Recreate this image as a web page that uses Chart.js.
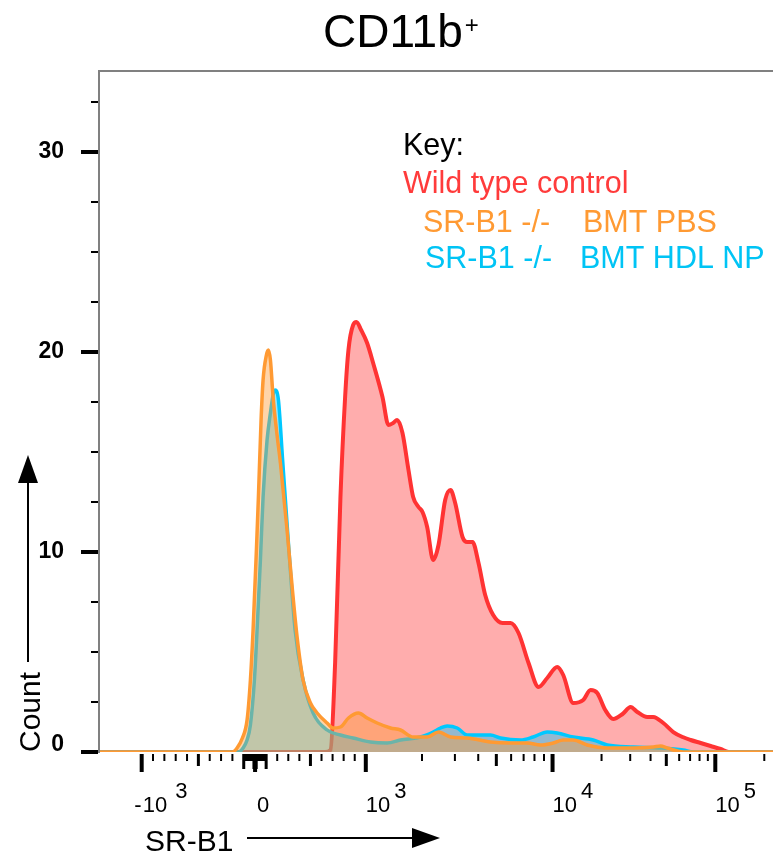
<!DOCTYPE html>
<html>
<head>
<meta charset="utf-8">
<script src="https://cdn.jsdelivr.net/npm/chart.js@4.4.1/dist/chart.umd.min.js"></script>
<style>
  html, body { margin: 0; padding: 0; background: #fff; overflow: hidden; }
  #wrap { position: relative; width: 782px; height: 853px; }
</style>
</head>
<body>
<div id="wrap"><canvas id="histo"></canvas></div>
<script>
// SR-B1 histograms on CD11b+ cells; x in display channels (0-1024), y in counts
const wtChannel = [0, 339, 347, 354, 362, 369, 374, 381, 386, 393, 402, 411, 425, 434, 441, 447, 455, 464, 471, 479,
  485, 492, 501, 509, 519, 527, 534, 545, 552, 560, 569, 579, 591, 605, 617, 629, 644, 659, 672, 687,
  696, 711, 726, 737, 747, 759, 771, 785, 797, 807, 822, 831, 846, 861, 875, 887, 902, 917, 932, 944, 1024];
const wtCount = [0, 0, 0.1, 4.45, 12.75, 17.75, 20.1, 21.35, 21.5, 21.1, 20.45, 19.45, 17.75, 16.35, 16.45, 16.6, 15.95, 14.1, 12.75, 12.25,
  12.0, 11.25, 9.6, 10.35, 12.6, 13.1, 12.45, 10.75, 10.5, 10.5, 9.45, 7.85, 6.85, 6.45, 6.45, 5.95, 4.45, 3.25, 3.7, 4.25,
  3.85, 2.45, 2.6, 3.1, 2.95, 2.1, 1.65, 1.9, 2.25, 2.0, 1.75, 1.75, 1.45, 1.0, 0.75, 0.6, 0.45, 0.3, 0.15, 0, 0];

const pbsChannel = [0, 200, 207, 215, 222, 227, 231, 236, 239, 243, 246, 251, 254, 257, 261, 267, 272, 282, 290, 297,
  306, 317, 327, 342, 351, 362, 374, 389, 402, 417, 437, 452, 471, 492, 509, 527, 552, 587, 617, 642,
  662, 681, 696, 711, 732, 762, 801, 831, 842, 852, 876, 1024];
const pbsCount = [0, 0, 0.2, 0.7, 1.6, 3.6, 6.1, 10.1, 12.75, 16.6, 18.6, 19.85, 20.1, 19.6, 17.75, 15.85, 14.45, 11.1, 8.1, 5.75,
  3.6, 2.45, 1.95, 1.45, 1.2, 1.25, 1.7, 1.95, 1.7, 1.45, 1.2, 1.1, 0.75, 0.75, 1.0, 0.75, 0.7, 0.5, 0.45, 0.45,
  0.35, 0.45, 0.6, 0.6, 0.35, 0.2, 0.2, 0.25, 0.3, 0.2, 0, 0];

const hdlChannel = [0, 209, 216, 222, 227, 233, 237, 242, 246, 252, 257, 261, 264, 269, 275, 284, 294, 306, 321, 342,
  362, 381, 407, 432, 452, 482, 501, 512, 522, 537, 552, 587, 602, 632, 651, 672, 687, 711, 741, 762,
  801, 842, 876, 891, 1024];
const hdlCount = [0, 0, 0.2, 0.6, 1.35, 3.6, 6.1, 9.6, 12.75, 15.6, 16.95, 17.85, 18.1, 17.6, 14.75, 10.45, 6.1, 3.6, 1.95, 1.1,
  0.85, 0.7, 0.5, 0.45, 0.6, 0.75, 1.0, 1.2, 1.3, 1.2, 0.85, 0.85, 0.7, 0.6, 0.75, 1.0, 0.95, 0.75, 0.6, 0.35,
  0.25, 0.2, 0.1, 0, 0];

// biexponential axis anchors: value -> display channel
const axisValues = [-1000, 0, 1000, 10000, 100000, 1000000];
const axisChannels = [64, 234, 400, 680, 924, 1168];
const majorValues = [-1000, 0, 1000, 10000, 100000];
const majorLabels = [['-10', '3'], ['0', ''], ['10', '3'], ['10', '4'], ['10', '5']];
const countTicks = [0, 10, 20, 30];

const keyLines = [
  { text: ['Key:'], color: '#000000' },
  { text: ['Wild type control'], color: '#ff3b3b' },
  { text: ['SR-B1 -/-', 'BMT PBS'], color: '#ff9a33' },
  { text: ['SR-B1 -/-', 'BMT HDL NP'], color: '#00c4f5' }
];

const FONT = '"Liberation Sans", Arial, Helvetica, sans-serif';

function toChannel(v) {
  let i = 0;
  while (i < axisValues.length - 2 && v > axisValues[i + 1]) i++;
  const a = axisValues[i], b = axisValues[i + 1];
  const ca = axisChannels[i], cb = axisChannels[i + 1];
  if (a >= 1000) {
    return ca + Math.log10(v / a) / Math.log10(b / a) * (cb - ca);
  }
  return ca + (v - a) / (b - a) * (cb - ca);
}

function buildXTicks() {
  const list = majorValues.map(v => ({ v, kind: 'major' }));
  for (const d of [10, 100]) {
    for (let m = 1; m <= 9; m++) {
      const kind = m === 1 ? 'long' : (m === 5 && d === 100 ? 'mid' : 'minor');
      list.push({ v: m * d, kind });
      list.push({ v: -m * d, kind });
    }
  }
  for (const d of [1000, 10000, 100000]) {
    for (let m = 2; m <= 9; m++) {
      list.push({ v: m * d, kind: m === 5 ? 'mid' : 'minor' });
    }
  }
  return list.filter(t => toChannel(t.v) <= 1024);
}

function series(ch, counts) {
  return ch.map((c, i) => ({ x: c, y: counts[i] }));
}

const tickStyle = {
  major: { w: 4, len: 18 },
  long: { w: 3, len: 15 },
  mid: { w: 3, len: 12 },
  minor: { w: 2, len: 7 }
};

const decor = {
  id: 'decor',
  afterDraw(chart) {
    const ctx = chart.ctx;
    const xs = chart.scales.x, ys = chart.scales.y;
    const area = chart.chartArea;
    ctx.save();

    // frame: left axis and top border
    ctx.strokeStyle = '#808080';
    ctx.lineWidth = 2;
    ctx.beginPath();
    ctx.moveTo(area.left, area.bottom + 1);
    ctx.lineTo(area.left, area.top);
    ctx.lineTo(area.right, area.top);
    ctx.stroke();

    // count ticks
    ctx.strokeStyle = '#000';
    for (let v = 0; v <= 34; v += 2.5) {
      const y = ys.getPixelForValue(v);
      const major = countTicks.includes(v);
      ctx.lineWidth = major ? 4 : 2;
      ctx.beginPath();
      ctx.moveTo(area.left - (major ? 18 : 8), y);
      ctx.lineTo(area.left - 1, y);
      ctx.stroke();
    }
    ctx.fillStyle = '#000';
    ctx.font = 'bold 23px ' + FONT;
    ctx.textAlign = 'right';
    ctx.textBaseline = 'middle';
    countTicks.forEach(v => {
      const y = Math.min(ys.getPixelForValue(v), area.bottom - 7);
      ctx.fillText(String(v), area.left - 35, y);
    });

    // SR-B1 ticks
    buildXTicks().forEach(t => {
      const x = xs.getPixelForValue(toChannel(t.v));
      const st = tickStyle[t.kind];
      ctx.lineWidth = st.w;
      ctx.beginPath();
      ctx.moveTo(x, area.bottom + 2);
      ctx.lineTo(x, area.bottom + 2 + st.len);
      ctx.stroke();
    });
    ctx.font = '22px ' + FONT;
    ctx.textBaseline = 'alphabetic';
    majorValues.forEach((v, i) => {
      const x = xs.getPixelForValue(toChannel(v));
      const [base, exp] = majorLabels[i];
      const y = area.bottom + 60;
      ctx.textAlign = 'left';
      if (base.startsWith('-')) {
        const body = base.slice(1);
        ctx.textAlign = 'right';
        ctx.fillText('-', x, y);
        ctx.textAlign = 'left';
        ctx.fillText(body, x + 1, y);
        const w = ctx.measureText(body).width;
        ctx.fillText(exp, x + 1 + w + 8, y - 14);
      } else {
        const bx = x + (exp ? 0 : 2);
        ctx.fillText(base, bx, y);
        if (exp) {
          const w = ctx.measureText(base).width;
          ctx.fillText(exp, bx + w + 4, y - 14);
        }
      }
    });

    // axis titles with arrows
    ctx.font = '30px ' + FONT;
    ctx.textAlign = 'left';
    ctx.fillText('SR-B1', 145, 851);
    ctx.lineWidth = 2;
    ctx.beginPath();
    ctx.moveTo(247, 838);
    ctx.lineTo(420, 838);
    ctx.stroke();
    ctx.beginPath();
    ctx.moveTo(440, 838);
    ctx.lineTo(412, 828);
    ctx.lineTo(412, 848);
    ctx.closePath();
    ctx.fill();

    ctx.save();
    ctx.translate(40, 752);
    ctx.rotate(-Math.PI / 2);
    ctx.fillText('Count', 0, 0);
    ctx.restore();
    ctx.beginPath();
    ctx.moveTo(28, 662);
    ctx.lineTo(28, 475);
    ctx.stroke();
    ctx.beginPath();
    ctx.moveTo(28, 455);
    ctx.lineTo(18, 483);
    ctx.lineTo(38, 483);
    ctx.closePath();
    ctx.fill();

    // key
    ctx.font = '30.5px ' + FONT;
    const keyX = [403, 403, 423, 425];
    const keyX2 = [0, 0, 583, 580];
    const keyY = [155, 193, 232, 268];
    keyLines.forEach((ln, i) => {
      ctx.fillStyle = ln.color;
      ctx.fillText(ln.text[0], keyX[i], keyY[i]);
      if (ln.text[1]) ctx.fillText(ln.text[1], keyX2[i], keyY[i]);
    });

    // title
    ctx.fillStyle = '#000';
    ctx.font = '46px ' + FONT;
    ctx.fillText('CD11b', 323, 47);
    const tw = ctx.measureText('CD11b').width;
    ctx.font = '24px ' + FONT;
    ctx.fillText('+', 323 + tw + 2, 33);

    ctx.restore();
  }
};

new Chart(document.getElementById('histo'), {
  type: 'line',
  data: {
    datasets: [
      {
        label: 'SR-B1 -/-   BMT PBS',
        data: series(pbsChannel, pbsCount),
        borderColor: '#ff9a33',
        backgroundColor: 'rgba(255,153,51,0.42)',
        borderWidth: 3.5,
        fill: 'origin',
        order: 1
      },
      {
        label: 'SR-B1 -/-   BMT HDL NP',
        data: series(hdlChannel, hdlCount),
        borderColor: '#00c8ff',
        backgroundColor: 'rgba(0,200,255,0.42)',
        borderWidth: 3.5,
        fill: 'origin',
        order: 2
      },
      {
        label: 'Wild type control',
        data: series(wtChannel, wtCount),
        borderColor: '#ff3333',
        backgroundColor: 'rgba(255,51,51,0.4)',
        borderWidth: 4,
        fill: 'origin',
        order: 3
      }
    ]
  },
  options: {
    responsive: true,
    maintainAspectRatio: false,
    animation: false,
    devicePixelRatio: 1,
    layout: { padding: { left: 99, top: 71, right: 0, bottom: 101 } },
    elements: {
      point: { radius: 0 },
      line: { cubicInterpolationMode: 'monotone', borderJoinStyle: 'round' }
    },
    plugins: {
      legend: { display: false },
      tooltip: { enabled: false },
      title: { display: false }
    },
    scales: {
      x: { type: 'linear', min: 0, max: 1024, display: false },
      y: { min: 0, max: 34.05, display: false }
    }
  },
  plugins: [decor]
});
</script>
</body>
</html>
